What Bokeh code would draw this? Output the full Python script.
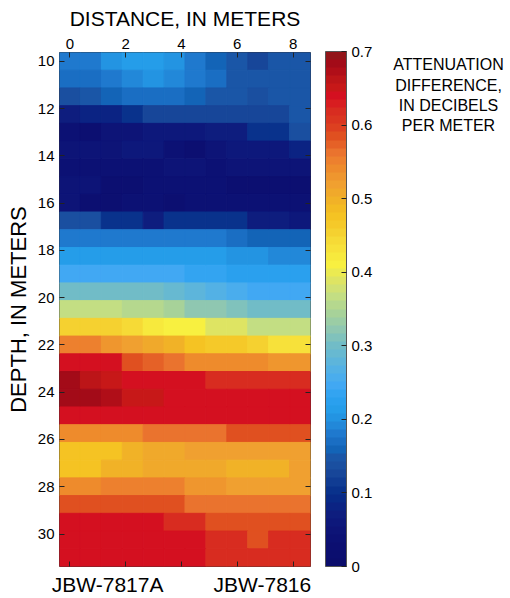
import numpy as np
from bokeh.plotting import figure
from bokeh.layouts import row
from bokeh.models import (LinearColorMapper, ColorBar, FixedTicker, LinearAxis, Range1d,
                          CustomJSTickFormatter, ColumnDataSource)
from bokeh.core.properties import value
from bokeh.transform import transform
from bokeh.embed import file_html
from bokeh.resources import INLINE

# ---------------- data ----------------
distance = [0.0, 0.75, 1.5, 2.25, 3.0, 3.75, 4.5, 5.25, 6.0, 6.75, 7.5, 8.25]
depth = [10.0, 10.75, 11.5, 12.25, 13.0, 13.75, 14.5, 15.25, 16.0, 16.75,
         17.5, 18.25, 19.0, 19.75, 20.5, 21.25, 22.0, 22.75, 23.5, 24.25,
         25.0, 25.75, 26.5, 27.25, 28.0, 28.75, 29.5, 30.25, 31.0]

# attenuation difference (dB/m), one row per depth, one value per distance
attenuation = [
    [0.18, 0.185, 0.20, 0.21, 0.21, 0.20, 0.18, 0.155, 0.15, 0.13, 0.15, 0.15],
    [0.17, 0.17, 0.185, 0.19, 0.20, 0.19, 0.18, 0.17, 0.15, 0.15, 0.15, 0.15],
    [0.135, 0.145, 0.16, 0.17, 0.17, 0.17, 0.16, 0.15, 0.15, 0.135, 0.15, 0.15],
    [0.07, 0.08, 0.08, 0.10, 0.13, 0.13, 0.13, 0.13, 0.13, 0.13, 0.13, 0.15],
    [0.04, 0.03, 0.05, 0.05, 0.06, 0.065, 0.065, 0.07, 0.075, 0.10, 0.10, 0.135],
    [0.05, 0.05, 0.05, 0.055, 0.055, 0.035, 0.03, 0.05, 0.055, 0.06, 0.06, 0.08],
    [0.04, 0.04, 0.04, 0.04, 0.04, 0.05, 0.05, 0.035, 0.05, 0.05, 0.05, 0.05],
    [0.05, 0.05, 0.03, 0.03, 0.04, 0.04, 0.04, 0.04, 0.025, 0.025, 0.025, 0.025],
    [0.045, 0.025, 0.025, 0.04, 0.04, 0.025, 0.04, 0.04, 0.04, 0.04, 0.04, 0.04],
    [0.135, 0.135, 0.10, 0.10, 0.07, 0.10, 0.10, 0.10, 0.10, 0.075, 0.075, 0.06],
    [0.185, 0.185, 0.185, 0.175, 0.175, 0.175, 0.175, 0.175, 0.165, 0.155, 0.155, 0.155],
    [0.215, 0.215, 0.215, 0.215, 0.215, 0.215, 0.215, 0.215, 0.20, 0.20, 0.19, 0.19],
    [0.245, 0.245, 0.245, 0.245, 0.245, 0.245, 0.235, 0.24, 0.22, 0.22, 0.22, 0.22],
    [0.30, 0.30, 0.30, 0.30, 0.30, 0.285, 0.275, 0.265, 0.255, 0.245, 0.245, 0.245],
    [0.37, 0.37, 0.37, 0.355, 0.355, 0.345, 0.325, 0.32, 0.31, 0.30, 0.30, 0.30],
    [0.45, 0.45, 0.45, 0.44, 0.42, 0.41, 0.405, 0.39, 0.385, 0.37, 0.37, 0.37],
    [0.55, 0.55, 0.53, 0.52, 0.51, 0.50, 0.48, 0.47, 0.47, 0.455, 0.435, 0.435],
    [0.64, 0.635, 0.635, 0.59, 0.57, 0.56, 0.545, 0.545, 0.545, 0.545, 0.535, 0.53],
    [0.68, 0.665, 0.655, 0.645, 0.64, 0.635, 0.635, 0.615, 0.615, 0.615, 0.615, 0.615],
    [0.68, 0.68, 0.67, 0.65, 0.65, 0.645, 0.645, 0.645, 0.645, 0.645, 0.645, 0.645],
    [0.64, 0.64, 0.64, 0.64, 0.64, 0.64, 0.645, 0.645, 0.645, 0.645, 0.645, 0.645],
    [0.545, 0.545, 0.545, 0.545, 0.56, 0.565, 0.565, 0.565, 0.585, 0.585, 0.585, 0.585],
    [0.48, 0.48, 0.48, 0.50, 0.51, 0.51, 0.52, 0.52, 0.52, 0.52, 0.52, 0.52],
    [0.48, 0.48, 0.50, 0.50, 0.51, 0.51, 0.51, 0.51, 0.50, 0.50, 0.50, 0.515],
    [0.54, 0.54, 0.55, 0.55, 0.55, 0.55, 0.53, 0.53, 0.52, 0.52, 0.52, 0.52],
    [0.585, 0.585, 0.585, 0.585, 0.585, 0.585, 0.565, 0.565, 0.56, 0.56, 0.56, 0.56],
    [0.635, 0.635, 0.635, 0.635, 0.635, 0.615, 0.615, 0.59, 0.59, 0.59, 0.59, 0.59],
    [0.64, 0.64, 0.64, 0.635, 0.635, 0.635, 0.635, 0.615, 0.615, 0.59, 0.615, 0.615],
    [0.64, 0.64, 0.64, 0.64, 0.635, 0.635, 0.635, 0.615, 0.615, 0.615, 0.615, 0.615],
]

distance_ticks = [0, 2, 4, 6, 8]
depth_ticks = [10, 12, 14, 16, 18, 20, 22, 24, 26, 28, 30]
colorbar_ticks = [0, 0.1, 0.2, 0.3, 0.4, 0.5, 0.6, 0.7]
well_names = ["JBW-7817A", "JBW-7816"]
well_label_pos = [1.35, 6.9]
title_lines = ["ATTENUATION", "DIFFERENCE,", "IN DECIBELS", "PER METER"]
cell = 0.75

# ---------------- colormap (64 steps) ----------------
cmap_stops = [0.000, 0.040, 0.070, 0.100, 0.130, 0.150, 0.160, 0.175, 0.190, 0.210,
              0.230, 0.245, 0.265, 0.300, 0.320, 0.345, 0.370, 0.390, 0.410, 0.440,
              0.460, 0.480, 0.500, 0.520, 0.540, 0.560, 0.585, 0.600, 0.615, 0.630,
              0.640, 0.650, 0.665, 0.680, 0.700]
cmap_colors = ["#0b0c6b", "#0c1174", "#0e1c7e", "#062e8a", "#1a4a9c", "#1a58a8", "#1266ba",
               "#1e72c8", "#2286d8", "#249ce8", "#2ca2f0", "#40a8f4", "#50b0e8", "#70bcc8",
               "#8cc6b4", "#a8d298", "#c8e080", "#e0e460", "#f8f040", "#f6dc38", "#f5cc2c",
               "#f5c020", "#f0b028", "#f0a030", "#ee8c2c", "#ec7830", "#e05020", "#dc3a20",
               "#d83020", "#d81c20", "#d41020", "#c81818", "#b81418", "#a80818", "#8a1a1a"]


def hex2rgb(h):
    return [int(h[i:i + 2], 16) for i in (1, 3, 5)]


rgb = np.array([hex2rgb(c) for c in cmap_colors], dtype=float)
n = 64
vals = (np.arange(n) + 0.5) / n * 0.7
palette = []
for v in vals:
    r = np.interp(v, cmap_stops, rgb[:, 0])
    g = np.interp(v, cmap_stops, rgb[:, 1])
    b = np.interp(v, cmap_stops, rgb[:, 2])
    palette.append("#%02x%02x%02x" % (int(round(r)), int(round(g)), int(round(b))))

mapper = LinearColorMapper(palette=palette, low=0, high=0.7)

xs, ys, vs = [], [], []
for i, d in enumerate(depth):
    for j, x in enumerate(distance):
        xs.append(x)
        ys.append(d)
        vs.append(attenuation[i][j])
src = ColumnDataSource(dict(x=xs, y=ys, v=vs))

FONT = "Liberation Sans"
W_MAIN = 385
H = 598
TOP, BOTTOM = 52, 31

p = figure(width=W_MAIN, height=H,
           x_range=Range1d(distance[0] - cell / 2, distance[-1] + cell / 2),
           y_range=Range1d(depth[-1] + cell / 2, depth[0] - cell / 2),
           x_axis_location=None, y_axis_location=None,
           toolbar_location=None, output_backend="svg",
           min_border_left=59, min_border_right=W_MAIN - 310,
           min_border_top=TOP, min_border_bottom=BOTTOM)
p.grid.visible = False
p.outline_line_color = "#333333"
p.outline_line_width = 1
p.background_fill_color = "white"
p.border_fill_color = "white"

p.rect(x="x", y="y", width=cell, height=cell, source=src,
       fill_color=transform("v", mapper), line_color=transform("v", mapper), line_width=1)


def style_axis(ax):
    ax.axis_line_color = None
    ax.major_tick_in = 5
    ax.major_tick_out = 0
    ax.minor_tick_in = 5
    ax.minor_tick_out = 0
    ax.major_tick_line_color = "#222222"
    ax.minor_tick_line_color = "#222222"
    ax.major_label_text_font = FONT
    ax.major_label_text_font_size = "15px"
    ax.major_label_text_color = "black"
    ax.axis_label_text_font = FONT
    ax.axis_label_text_font_size = "21px"
    ax.axis_label_text_font_style = "normal"
    ax.axis_label_text_color = "black"


top = LinearAxis(ticker=FixedTicker(ticks=distance_ticks), axis_label="DISTANCE, IN METERS")
style_axis(top)
top.major_label_standoff = 4
top.axis_label_standoff = 6
p.add_layout(top, "above")

left = LinearAxis(ticker=FixedTicker(ticks=depth_ticks), axis_label="DEPTH, IN METERS")
style_axis(left)
left.axis_label_text_font_size = "22px"
left.major_label_standoff = 5
left.axis_label_standoff = 4
p.add_layout(left, "left")

# bottom: tick marks at the distance ticks, well names as labels
bottom = LinearAxis(ticker=FixedTicker(ticks=well_label_pos, minor_ticks=distance_ticks),
                    formatter=CustomJSTickFormatter(args=dict(names=well_names),
                                                    code="return names[index];"))
style_axis(bottom)
bottom.major_tick_in = 0
bottom.major_label_text_font_size = "21px"
bottom.major_label_standoff = 6
p.add_layout(bottom, "below")

right = LinearAxis(ticker=FixedTicker(ticks=[], minor_ticks=depth_ticks))
style_axis(right)
p.add_layout(right, "right")

cb = ColorBar(color_mapper=mapper, width=21, height=515, location=(15, 0),
              padding=0, margin=0,
              ticker=FixedTicker(ticks=colorbar_ticks),
              formatter=CustomJSTickFormatter(code="return tick.toFixed(1).replace(/\\.0$/, '');"),
              major_label_text_font=FONT, major_label_text_font_size="15px",
              major_label_text_color="black", label_standoff=5,
              major_tick_in=5, major_tick_out=0, major_tick_line_color="#222222",
              bar_line_color="#555555", border_line_color=None, background_fill_color=None)
p.add_layout(cb, "right")

# ---------------- caption panel (data units = page pixels) ----------------
W_CAP = 510 - W_MAIN
cap = figure(width=W_CAP, height=H, x_range=Range1d(0, W_CAP), y_range=Range1d(H - BOTTOM, TOP),
             x_axis_location=None, y_axis_location=None,
             toolbar_location=None, output_backend="svg",
             min_border_left=0, min_border_right=0, min_border_top=TOP, min_border_bottom=BOTTOM)
cap.grid.visible = False
cap.outline_line_color = None
cap.background_fill_color = "white"
cap.border_fill_color = "white"
cap_src = ColumnDataSource(dict(text=title_lines,
                                x=[448 - W_MAIN] * len(title_lines),
                                y=[64.5 + 20.3 * k for k in range(len(title_lines))]))
cap.text(x="x", y="y", text="text", source=cap_src, text_align="center",
         text_baseline="alphabetic", text_font=value(FONT), text_font_size="16px",
         text_color="black")

layout = row(p, cap)
open("out.html", "w").write(file_html(layout, INLINE))
